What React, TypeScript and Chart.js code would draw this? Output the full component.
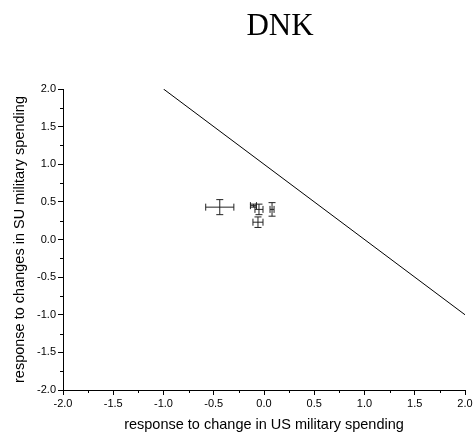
import React, { useEffect, useRef } from "react";
import { Chart, registerables } from "chart.js";

Chart.register(...registerables);

const pointX = [-0.44, -0.105, -0.05, -0.06, 0.08];
const pointY = [0.43, 0.45, 0.4, 0.23, 0.4];
const errX = [0.14, 0.03, 0.04, 0.05, 0.02];
const errY = [0.1, 0.02, 0.07, 0.07, 0.09];
const refLineX = [-1, 2];
const refLineY = [2, -1];
const tickValues = [-2, -1.5, -1, -0.5, 0, 0.5, 1, 1.5, 2];
const chartTitle = "DNK";
const xTitle = "response to change in US military spending";
const yTitle = "response to changes in SU military spending";

const errorBarPlugin = {
  id: "errorBars",
  afterDatasetsDraw(chart: any) {
    const { ctx, scales } = chart;
    const xs = scales.x;
    const ys = scales.y;
    const cap = 3.5;
    ctx.save();
    ctx.strokeStyle = "#222";
    ctx.lineWidth = 1;
    for (let i = 0; i < pointX.length; i++) {
      const cx = xs.getPixelForValue(pointX[i]);
      const cy = ys.getPixelForValue(pointY[i]);
      const x0 = xs.getPixelForValue(pointX[i] - errX[i]);
      const x1 = xs.getPixelForValue(pointX[i] + errX[i]);
      const y0 = ys.getPixelForValue(pointY[i] - errY[i]);
      const y1 = ys.getPixelForValue(pointY[i] + errY[i]);
      ctx.beginPath();
      ctx.moveTo(x0, cy);
      ctx.lineTo(x1, cy);
      ctx.moveTo(x0, cy - cap);
      ctx.lineTo(x0, cy + cap);
      ctx.moveTo(x1, cy - cap);
      ctx.lineTo(x1, cy + cap);
      ctx.moveTo(cx, y0);
      ctx.lineTo(cx, y1);
      ctx.moveTo(cx - cap, y0);
      ctx.lineTo(cx + cap, y0);
      ctx.moveTo(cx - cap, y1);
      ctx.lineTo(cx + cap, y1);
      ctx.stroke();
    }
    ctx.restore();
  },
};

const minorTickPlugin = {
  id: "minorTicks",
  afterDraw(chart: any) {
    const { ctx, scales, chartArea } = chart;
    ctx.save();
    ctx.strokeStyle = "#000";
    ctx.lineWidth = 1;
    ctx.beginPath();
    for (let v = -1.75; v < 2; v += 0.5) {
      const px = Math.round(scales.x.getPixelForValue(v)) + 0.5;
      ctx.moveTo(px, chartArea.bottom);
      ctx.lineTo(px, chartArea.bottom + 3);
      const py = Math.round(scales.y.getPixelForValue(v)) + 0.5;
      ctx.moveTo(chartArea.left, py);
      ctx.lineTo(chartArea.left - 3, py);
    }
    ctx.stroke();
    ctx.fillStyle = "#000";
    ctx.font = "31px 'Liberation Serif'";
    ctx.textAlign = "center";
    ctx.textBaseline = "alphabetic";
    ctx.fillText(chartTitle, 280, 35);
    ctx.restore();
  },
};

export default function App() {
  const ref = useRef<HTMLCanvasElement | null>(null);
  useEffect(() => {
    if (!ref.current) return;
    const chart = new Chart(ref.current, {
      type: "scatter",
      data: {
        datasets: [
          {
            type: "line",
            data: refLineX.map((x, i) => ({ x, y: refLineY[i] })),
            borderColor: "#000",
            borderWidth: 1,
            pointRadius: 0,
            fill: false,
          },
          {
            data: pointX.map((x, i) => ({ x, y: pointY[i] })),
            pointRadius: 0,
            showLine: false,
          },
        ],
      },
      plugins: [errorBarPlugin, minorTickPlugin],
      options: {
        animation: false,
        responsive: false,
        maintainAspectRatio: false,
        layout: { padding: { top: 89, right: 8, left: 10, bottom: 0 } },
        plugins: {
          legend: { display: false },
          tooltip: { enabled: false },
          title: { display: false },
        },
        scales: {
          x: {
            type: "linear",
            min: -2,
            max: 2,
            afterFit: (s: any) => {
              s.height = 47;
              s.paddingLeft = 0;
              s.paddingRight = 0;
            },
            afterBuildTicks: (s: any) => {
              s.ticks = tickValues.map((v) => ({ value: v }));
            },
            border: { display: true, color: "#000", width: 1 },
            grid: { drawOnChartArea: false, drawTicks: true, tickLength: 5, tickColor: "#000" },
            ticks: {
              color: "#000",
              font: { family: "'Liberation Sans'", size: 11 },
              padding: 2,
              maxRotation: 0,
              callback: (v: any) => Number(v).toFixed(1),
            },
            title: {
              display: true,
              text: xTitle,
              color: "#000",
              font: { family: "'Liberation Sans'", size: 14.5 },
              padding: { top: 3, bottom: 3 },
            },
          },
          y: {
            type: "linear",
            min: -2,
            max: 2,
            afterFit: (s: any) => {
              s.width = 53;
              s.paddingTop = 0;
              s.paddingBottom = 0;
            },
            afterBuildTicks: (s: any) => {
              s.ticks = tickValues.map((v) => ({ value: v }));
            },
            border: { display: true, color: "#000", width: 1 },
            grid: { drawOnChartArea: false, drawTicks: true, tickLength: 5, tickColor: "#000" },
            ticks: {
              color: "#000",
              font: { family: "'Liberation Sans'", size: 11 },
              padding: 2,
              callback: (v: any) => Number(v).toFixed(1),
            },
            title: {
              display: true,
              text: yTitle,
              color: "#000",
              font: { family: "'Liberation Sans'", size: 14.5 },
              padding: { top: 1, bottom: 4 },
            },
          },
        },
      },
    });
    return () => chart.destroy();
  }, []);
  return (
    <div style={{ position: "fixed", left: 0, top: 0, width: 473, height: 437, background: "#fff" }}>
      <canvas ref={ref} width={473} height={437} style={{ width: 473, height: 437 }} />
    </div>
  );
}
